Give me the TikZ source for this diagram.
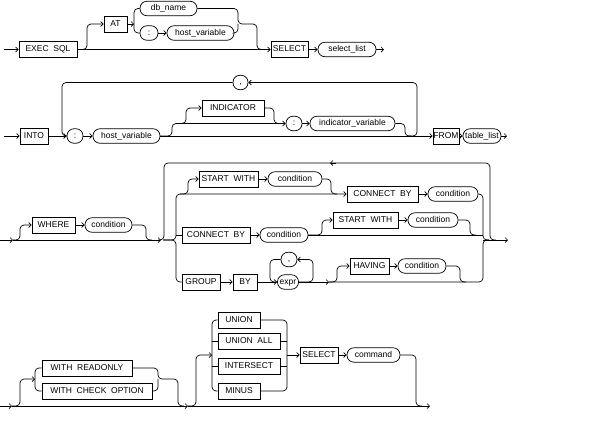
\documentclass[tikz,border=0pt]{standalone}
\usepackage{fontspec}
\setmainfont{Liberation Sans}
\usetikzlibrary{arrows.meta}

\begin{document}
\begin{tikzpicture}[x=1pt,y=-1pt,line width=0.7pt,
  >={Straight Barb[length=2.5pt,width=5pt]},
  kw/.style={draw,rectangle,minimum height=16,inner sep=0.5pt,text height=6.3pt,text depth=1.7pt,font=\fontsize{8.5}{9}\selectfont},
  var/.style={draw,rectangle,rounded corners=7pt,minimum height=14.5,inner sep=0.5pt,text height=6.3pt,text depth=1.7pt,font=\fontsize{8.5}{9}\selectfont},
  rail/.style={rounded corners=4pt}]
\useasboundingbox (0,0) rectangle (592,432);

% EXEC SQL [AT ...] SELECT select_list
\node[kw,minimum width=58] (exec) at (48,49.5) {EXEC\ \ SQL};
\node[kw,minimum width=23] (at) at (115.5,24) {AT};
\node[var,minimum width=57] (dbname) at (168.5,8.5) {db\_name};
\node[var,minimum width=18] (colA) at (149,33) {:};
\node[var,minimum width=67] (hostA) at (200.5,33) {host\_variable};
\node[kw,minimum width=37] (selA) at (289.5,49.5) {SELECT};
\node[var,minimum width=58] (sellist) at (347,49.5) {select\_list};

\draw[->] (4,49.5) -- (exec);
\draw[->] (exec) -- (selA);
\draw[->,rail] (exec.east) -| (87,24) -- (at);
\draw[->] (at) -- (134,24);
\draw[rail] (dbname) -| (134,33) -- (colA);
\draw[->] (colA) -- (hostA);
\draw[rail] (dbname) -| (238,24) -| (257,49.5) -- (263,49.5);
\draw[rail] (hostA) -| (238,24);
\draw[->] (selA) -- (sellist);
\draw[->] (sellist) -- (384,49.5);

% INTO :host_variable [[INDICATOR] :indicator_variable] FROM table_list
\node[kw,minimum width=28] (into) at (34,136) {INTO};
\node[var,minimum width=16] (colB) at (75,136) {:};
\node[var,minimum width=67] (hostB) at (126.5,136) {host\_variable};
\node[kw,minimum width=62] (ind) at (233,108) {INDICATOR};
\node[var,minimum width=16] (colC) at (294,123.5) {:};
\node[var,minimum width=85] (indvar) at (352.5,123.5) {indicator\_variable};
\node[var,minimum width=15] (comma) at (240.5,82.5) {,};
\node[kw,minimum width=26] (from) at (446,136) {FROM};
\node[var,minimum width=38] (tablist) at (482,136) {table\_list};

\draw[->] (4,136) -- (into);
\draw[->] (into) -- (colB);
\draw[->] (colB) -- (hostB);
\draw[->] (hostB) -- (from);
\draw[->,rail] (hostB.east) -| (172,123.5) -- (colC);
\draw[->,rail] (178,123.5) -| (186,108) -- (ind);
\draw[rail] (ind) -| (274,123.5) -- (280,123.5);
\draw[->] (colC) -- (indvar);
\draw[rail] (indvar) -| (405,136) -- (411,136);
\draw[->,rail] (409,136) -| (417,82.5) -- (comma);
\draw[rail] (comma) -| (62,136) -- (67,136);
\draw[->] (from) -- (tablist);
\draw[->] (tablist) -- (507,136);

% [WHERE condition] [START WITH / CONNECT BY / GROUP BY]
\node[kw,minimum width=43] (where) at (53.5,225) {WHERE};
\node[var,minimum width=47] (condA) at (108.5,225) {condition};
\node[kw,minimum width=59] (startA) at (228.5,179) {START\ \ WITH};
\node[var,minimum width=54] (condB) at (295,179) {condition};
\node[kw,minimum width=71] (connA) at (382.5,194) {CONNECT\ \ BY};
\node[var,minimum width=50] (condC) at (453,194) {condition};
\node[kw,minimum width=68] (connB) at (216,235) {CONNECT\ \ BY};
\node[var,minimum width=48] (condD) at (284,235) {condition};
\node[kw,minimum width=65] (startB) at (365.5,220) {START\ \ WITH};
\node[var,minimum width=50] (condE) at (433,220) {condition};
\node[kw,minimum width=38] (group) at (201,282) {GROUP};
\node[kw,minimum width=24] (by) at (245,282) {BY};
\node[var,minimum width=21] (expr) at (288,282) {expr};
\node[var,minimum width=16] (comma2) at (289,259.5) {,};
\node[kw,minimum width=39] (having) at (369.5,266) {HAVING};
\node[var,minimum width=48] (condF) at (422,266) {condition};

\draw[->] (0,240) -- (13,240);
\draw[->] (13,240) -- (161,240);
\draw[->,rail] (13,240) -| (20,225) -- (where);
\draw[->] (where) -- (condA);
\draw[rail] (condA) -| (146,240) -- (152,240);
\draw[rail] (158,240) -| (164,163) -| (490,240) -- (496,240);
\draw[->] (336,163) -- (330,163);
\draw[->,rail] (163,240) -| (176,194) -- (connA);
\draw[->,rail] (180,194) -| (188,179) -- (startA);
\draw[->] (startA) -- (condB);
\draw[rail] (condB) -| (331,194) -- (337,194);
\draw[->] (connA) -- (condC);
\draw[rail] (condC) -| (483,240) -- (489,240);
\draw (176,235) -- (connB);
\draw[->] (connB) -- (condD);
\draw (condD) -- (483,235);
\draw[->,rail] (condD.east) -| (322,220) -- (startB);
\draw[->] (startB) -- (condE);
\draw[rail] (condE) -| (470,235) -- (476,235);
\draw[rail] (163,240) -| (176,282) -- (group);
\draw[->] (group) -- (by);
\draw[->] (by) -- (expr);
\draw[->,rail] (expr) -| (313,259.5) -- (comma2);
\draw[rail] (comma2) -| (270,282) -- (276,282);
\draw[->] (expr) -- (329,282);
\draw[rail] (329,282) -| (483,240) -- (489,240);
\draw[->,rail] (329,282) -| (337,266) -- (having);
\draw[->] (having) -- (condF);
\draw[rail] (condF) -| (460,282) -- (466,282);
\draw[->] (483,240) -- (508,240);

% [WITH READONLY | WITH CHECK OPTION] [UNION ... SELECT command]
\node[kw,minimum width=90] (ronly) at (87,368) {WITH\ \ READONLY};
\node[kw,minimum width=110] (check) at (97,391) {WITH\ \ CHECK\ \ OPTION};
\node[kw,minimum width=42] (union) at (239,320) {UNION};
\node[kw,minimum width=62] (unall) at (249,341) {UNION\ \ ALL};
\node[kw,minimum width=62] (inter) at (249,366) {INTERSECT};
\node[kw,minimum width=42] (minus) at (239,391) {MINUS};
\node[kw,minimum width=38] (selB) at (319,355) {SELECT};
\node[var,minimum width=53] (cmd) at (373.5,355) {command};

\draw[->] (0,406) -- (12,406);
\draw[->] (12,406) -- (188,406);
\draw[->] (188,406) -- (430,406);
\draw[->,rail] (12,406) -| (20,379) -- (35,379);
\draw[rail] (ronly) -| (35,391) -- (check);
\draw[rail] (ronly) -| (158,379) -| (178,406) -- (184,406);
\draw[rail] (check) -| (158,379);
\draw[->,rail] (188,406) -| (196,355) -- (212,355);
\draw[rail] (union) -| (212,391) -- (minus);
\draw (212,341) -- (unall);
\draw (212,366) -- (inter);
\draw[rail] (union) -| (287,391) -- (minus);
\draw (unall) -- (287,341);
\draw (inter) -- (287,366);
\draw[->] (287,355) -- (selB);
\draw[->] (selB) -- (cmd);
\draw[rail] (cmd) -| (416,406) -- (422,406);
\end{tikzpicture}
\end{document}
